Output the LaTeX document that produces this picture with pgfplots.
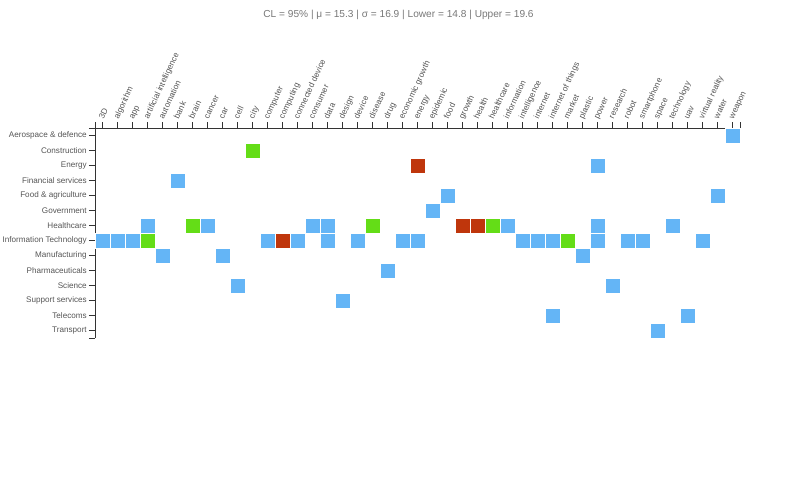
\documentclass[border=0pt]{standalone}
\usepackage{fontspec}
\setmainfont{Liberation Sans}
\usepackage{pgfplots}
\pgfplotsset{compat=1.18}
\definecolor{cblue}{HTML}{64B5F6}
\definecolor{cgreen}{HTML}{64DD17}
\definecolor{cred}{HTML}{BF360C}
\definecolor{axcol}{HTML}{333333}
\definecolor{labcol}{HTML}{555555}
\definecolor{titcol}{HTML}{777777}
\begin{document}
\begin{tikzpicture}
\path[use as bounding box] (0,0) rectangle (597pt,-375pt);
\node[font=\fontsize{7.6pt}{9pt}\selectfont, text=titcol, inner sep=0pt] at (298.9pt,-11.25pt)
  {CL = 95\% | μ = 15.3 | σ = 16.9 | Lower = 14.8 | Upper = 19.6};
\begin{axis}[
  at={(71.25pt,-253.5pt)}, anchor=south west,
  scale only axis, width=483.75pt, height=157.5pt,
  xmin=-0.5, xmax=42.5, ymin=-0.5, ymax=13.5,
  y dir=reverse,
  clip=false,
  axis x line*=top, axis y line*=left,
  axis line style={-, draw=axcol, line width=0.75pt},
  every tick/.style={draw=axcol, line width=0.75pt},
  major tick length=4.5pt,
  xtick align=outside, ytick align=outside,
  xtick={0,...,42},
  xticklabels={3D,algorithm,app,artificial intelligence,automation,bank,brain,cancer,car,cell,city,computer,computing,connected device,consumer,data,design,device,disease,drug,economic growth,energy,epidemic,food,growth,health,healthcare,information,intelligence,internet,internet of things,market,plastic,power,research,robot,smartphone,space,technology,uav,virtual reality,water,weapon},
  ytick={0,...,13},
  yticklabels={Aerospace \& defence,Construction,Energy,Financial services,Food \& agriculture,Government,Healthcare,Information Technology,Manufacturing,Pharmaceuticals,Science,Support services,Telecoms,Transport},
  extra x ticks={-0.5,42.5}, extra x tick labels={},
  extra y ticks={-0.5,13.5}, extra y tick labels={},
  xticklabel style={rotate=65, anchor=base west, font=\fontsize{6.2pt}{7pt}\selectfont, text=labcol, inner sep=1pt, xshift=1pt},
  yticklabel style={font=\fontsize{6.1pt}{7pt}\selectfont, text=labcol, inner sep=1.5pt},
  /pgf/number format/assume math mode=true,
]
\addplot[only marks, mark=square*, mark size=5.625pt, mark options={fill=cblue, draw=white, line width=0.75pt}] coordinates {
(42,0) (33,2) (5,3) (23,4) (41,4) (22,5)
(3,6) (7,6) (14,6) (15,6) (27,6) (33,6) (38,6)
(0,7) (1,7) (2,7) (11,7) (13,7) (15,7) (17,7) (20,7) (21,7) (28,7) (29,7) (30,7) (33,7) (35,7) (36,7) (40,7)
(4,8) (8,8) (32,8) (19,9) (9,10) (34,10) (16,11) (30,12) (39,12) (37,13)
};
\addplot[only marks, mark=square*, mark size=5.625pt, mark options={fill=cgreen, draw=white, line width=0.75pt}] coordinates {
(10,1) (6,6) (18,6) (26,6) (3,7) (31,7)
};
\addplot[only marks, mark=square*, mark size=5.625pt, mark options={fill=cred, draw=white, line width=0.75pt}] coordinates {
(21,2) (24,6) (25,6) (12,7)
};
\end{axis}
\end{tikzpicture}
\end{document}
